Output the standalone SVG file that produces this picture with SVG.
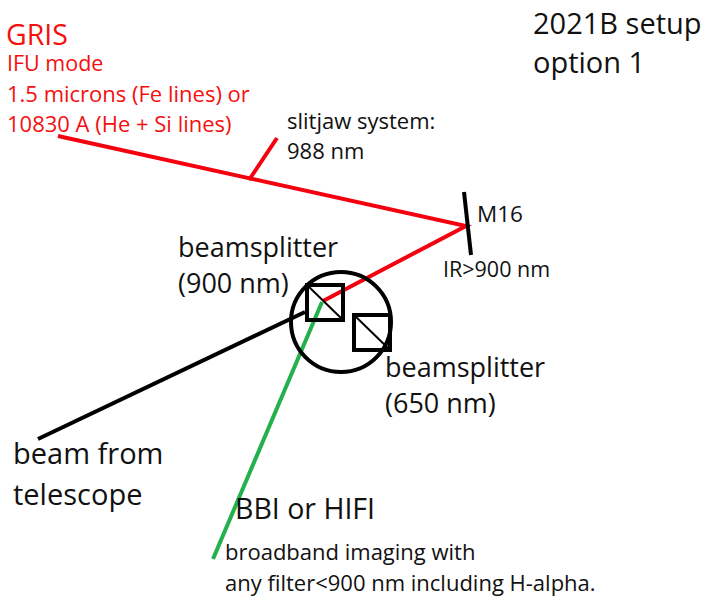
<svg xmlns="http://www.w3.org/2000/svg" width="717" height="600" viewBox="0 0 717 600">
<style>
text{font-family:"Open Sans","Noto Sans","Liberation Sans",sans-serif;fill:#111}
.r{fill:#f50f0f}
.l{fill:none;stroke-width:4}
.k{fill:none;stroke:#000;stroke-width:4}
.d{fill:none;stroke:#000;stroke-width:2}
</style>
<rect width="717" height="600" fill="#fff"/>
<g id="connectors">
<path class="l" stroke="#000" d="M38 439L305 312"/>
<path class="l" stroke="#f5000f" d="M58 136L466 226L323 301"/>
<path class="l" stroke="#f5000f" d="M249 180L277 138"/>
<path class="l" stroke="#22b14c" d="M213 559L322 302"/>
</g>
<g id="m16"><path class="k" d="M464 192L471 255"/><text x="477" y="222" font-size="22.5">M16</text><text x="443" y="277" font-size="21.5">IR&gt;900 nm</text></g>
<g id="circle"><circle class="k" cx="341" cy="322" r="50"/></g>
<g id="bs900"><rect class="k" x="307" y="285" width="36" height="35"/><path class="d" d="M307 285L343 320"/><text x="178" y="257" font-size="27">beamsplitter</text><text x="178" y="293" font-size="27">(900 nm)</text></g>
<g id="bs650"><rect class="k" x="354" y="315" width="36" height="35"/><path class="d" d="M354 315L390 350"/><text x="385" y="377" font-size="27">beamsplitter</text><text x="385" y="413" font-size="27">(650 nm)</text></g>
<g id="gris"><text class="r" x="6" y="45" font-size="28.5">GRIS</text><text class="r" x="7" y="71" font-size="21.5">IFU mode</text><text class="r" x="7" y="102" font-size="22">1.5 microns (Fe lines) or</text><text class="r" x="7" y="132" font-size="22">10830 A (He + Si lines)</text></g>
<g id="slitjaw"><text x="287" y="129" font-size="22">slitjaw system:</text><text x="287" y="159" font-size="22">988 nm</text></g>
<g id="setup"><text x="533" y="34" font-size="29">2021B setup</text><text x="533" y="73" font-size="29">option 1</text></g>
<g id="telescope"><text x="13" y="464" font-size="29">beam from</text><text x="13" y="505" font-size="29">telescope</text></g>
<g id="bbi"><text x="235" y="519" font-size="28.5">BBI or HIFI</text><text x="225" y="560" font-size="22">broadband imaging with</text><text x="225" y="591" font-size="22">any filter&lt;900 nm including H-alpha.</text></g>
</svg>
